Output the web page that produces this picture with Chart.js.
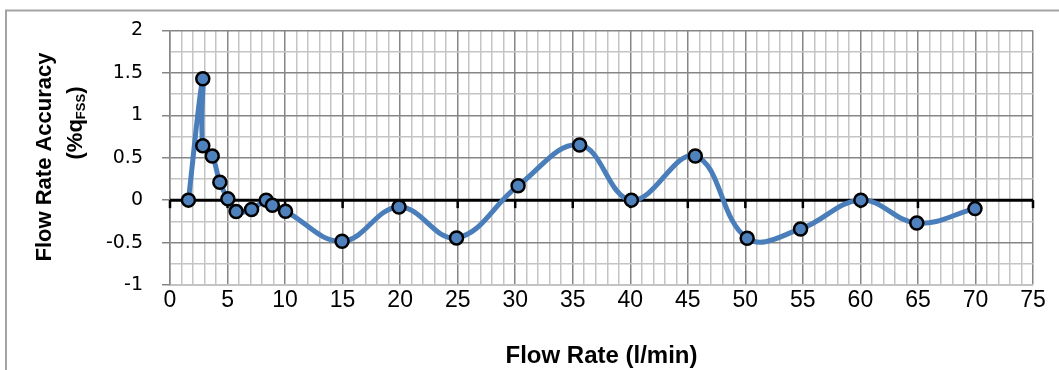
<!DOCTYPE html>
<html>
<head>
<meta charset="utf-8">
<script src="https://cdn.jsdelivr.net/npm/chart.js@4/dist/chart.umd.min.js"></script>
<style>
    html,body {margin:0;padding:0;background:#fff;}
    #wrap {width:1059px;height:370px;}
</style>
</head>
<body>
<div id="wrap"><canvas id="chart"></canvas></div>
<script>
let flowRate=[1.6,2.85,2.85,3.67,4.33,5.03,5.75,7.09,8.36,8.9,10.04,14.95,19.9,24.9,30.25,35.6,40.1,45.65,50.16,54.8,60.04,64.9,69.96];
let accuracy=[0,1.43,0.64,0.52,0.21,0.015,-0.135,-0.11,0,-0.06,-0.13,-0.485,-0.08,-0.445,0.17,0.65,0,0.52,-0.45,-0.34,0,-0.27,-0.1];
let xTitle="Flow Rate (l/min)";
let yTitle=["Flow Rate Accuracy","(%q","FSS",")"];

const MAJOR="#868686",MINOR="#c4c4c4";

function isMajor(v,step) {
    return Math.abs(v/step-Math.round(v/step))<1e-6;
}

// outer frame of the chart object, only top and left are in view
let framePlugin={
    id:"frame",
    beforeDraw(chart) {
        let c=chart.ctx;
        c.save();
        c.strokeStyle="#a3a3a3";
        c.lineWidth=2;
        c.beginPath();
        c.moveTo(6,chart.height);
        c.lineTo(6,10.5);
        c.lineTo(chart.width,10.5);
        c.stroke();
        c.restore();
    }
};

// the horizontal axis crosses at 0, so its line and tick marks sit there
let zeroAxisPlugin={
    id:"zeroAxis",
    beforeDatasetsDraw(chart) {
        let
            c=chart.ctx,
            x=chart.scales.x,
            y0=chart.scales.y.getPixelForValue(0);
        c.save();
        c.strokeStyle="#000";
        c.lineWidth=3;
        c.beginPath();
        c.moveTo(x.left,y0);
        c.lineTo(x.right,y0);
        c.stroke();
        c.lineWidth=2.5;
        for (let v=0;v<=75;v+=5) {
            let px=x.getPixelForValue(v);
            c.beginPath();
            c.moveTo(px,y0);
            c.lineTo(px,y0+8);
            c.stroke();
        }
        c.restore();
    }
};

// rotated y title with the FSS subscript
let yTitlePlugin={
    id:"yTitle",
    afterDraw(chart) {
        let
            c=chart.ctx,
            big="bold 22px 'Liberation Sans'",
            small="bold 13px 'Liberation Sans'";
        c.save();
        c.fillStyle="#000";
        c.textBaseline="middle";
        c.translate(45,157);
        c.rotate(-Math.PI/2);
        c.font=big;
        c.textAlign="center";
        c.fillText(yTitle[0],0,0);
        c.restore();

        c.save();
        c.fillStyle="#000";
        c.textBaseline="middle";
        c.translate(76,123);
        c.rotate(-Math.PI/2);
        c.font=big;
        let w1=c.measureText(yTitle[1]).width,w3=c.measureText(yTitle[3]).width;
        c.font=small;
        let w2=c.measureText(yTitle[2]).width;
        let x=-(w1+w2+w3)/2;
        c.textAlign="left";
        c.font=big;
        c.fillText(yTitle[1],x,0);
        c.font=small;
        c.fillText(yTitle[2],x+w1,5);
        c.font=big;
        c.fillText(yTitle[3],x+w1+w2,0);
        c.restore();
    }
};

new Chart(document.getElementById("chart"),{
    type:"scatter",
    data:{
        datasets:[{
            data:flowRate.map((f,i)=>({x:f,y:accuracy[i]})),
            showLine:true,
            tension:0.4,
            borderColor:"#4a7ebb",
            borderWidth:5,
            pointRadius:6.5,
            pointBorderWidth:2.5,
            pointBorderColor:"#000",
            pointBackgroundColor:"#4f81bd"
        }]
    },
    options:{
        responsive:true,
        maintainAspectRatio:false,
        animation:false,
        layout:{padding:{left:0,right:26,top:27,bottom:0}},
        plugins:{legend:{display:false},tooltip:{enabled:false}},
        scales:{
            x:{
                type:"linear",
                min:0,max:75,
                afterFit:s=>{s.height=85;},
                ticks:{
                    stepSize:1,
                    autoSkip:false,
                    maxRotation:0,
                    padding:2,
                    color:"#000",
                    font:{family:"'Liberation Sans'",size:23},
                    callback:v=>isMajor(v,5)?v:""
                },
                grid:{
                    drawTicks:false,
                    color:ctx=>isMajor(ctx.tick.value,5)?MAJOR:MINOR,
                    lineWidth:1.5
                },
                border:{display:true,color:MINOR,width:1.5},
                title:{
                    display:true,
                    text:xTitle,
                    color:"#000",
                    font:{family:"'Liberation Sans'",size:24,weight:"bold",lineHeight:1.1},
                    padding:{top:0,bottom:0}
                }
            },
            y:{
                min:-1,max:2,
                afterFit:s=>{s.width=170;},
                ticks:{
                    stepSize:0.25,
                    autoSkip:false,
                    padding:19,
                    color:"#000",
                    font:{family:"'DejaVu Sans'",size:19},
                    callback:v=>isMajor(v,0.5)?v:""
                },
                grid:{
                    tickLength:8,
                    color:ctx=>isMajor(ctx.tick.value,0.5)?MAJOR:MINOR,
                    tickColor:ctx=>isMajor(ctx.tick.value,0.5)?MAJOR:"rgba(0,0,0,0)",
                    lineWidth:1.5
                },
                border:{display:true,color:MAJOR,width:1.5}
            }
        }
    },
    plugins:[framePlugin,zeroAxisPlugin,yTitlePlugin]
});
</script>
</body>
</html>
